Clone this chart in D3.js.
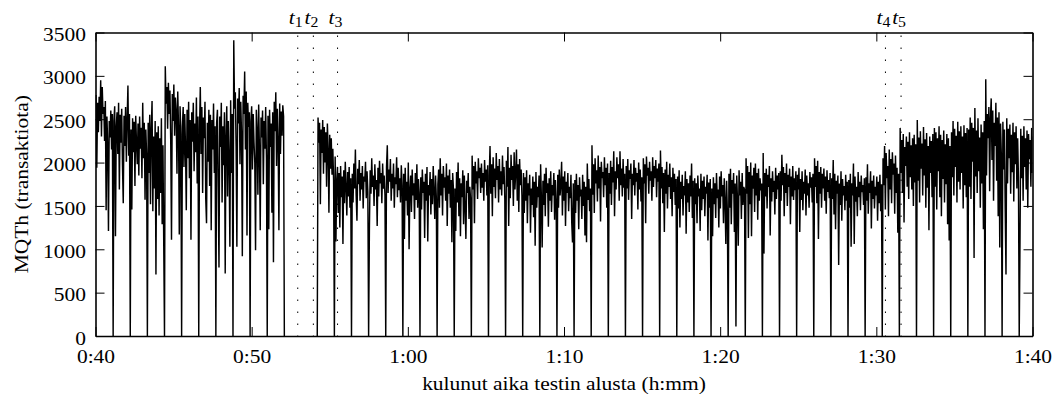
<!DOCTYPE html>
<html>
<head>
<meta charset="utf-8">
<script src="https://cdn.jsdelivr.net/npm/d3@7"></script>
<style>
  body { margin: 0; background: #fff; }
  svg text { font-family: "Liberation Serif", "Times New Roman", serif; fill: #000; }
</style>
</head>
<body>
<svg id="chart"></svg>
<script>
// Sample times are seconds since test start; one sample every ~3 s.
const step = 2.99;
const startA = 2402;   // 0:40, run before the break
const startB = 3252;   // restart after t2

// MQTh per sample, 0:40 .. 0:52 (each row starts with the periodic drop to 0)
const mqthA = [
  2780, 1940, 2690, 2350, 2760, 2480, 2950, 2300, 2870, 2560, 2640, 2250, 2710, 1450, 2530, 2220, 1210, 2480, 2290, 2600, 2150, 2560,
  0, 2480, 2650, 1150, 2420, 2580, 2100, 2690, 1690, 2550, 2230, 2620, 1970, 1530, 2540, 2190, 2640, 2010, 2500, 2890, 2080, 2560,
  0, 2380, 1460, 2510, 2120, 2470, 1730, 2540, 2230, 1980, 2450, 1850, 2530, 2160, 2400, 1820, 2690, 2050, 2460, 1570, 2380, 2100,
  0, 2460, 1880, 2550, 1520, 2390, 2710, 1440, 2300, 1700, 2480, 710, 2350, 1580, 2420, 1390, 2280, 1650, 2510, 1290, 2200, 1080,
  0, 3110, 2680, 2870, 2390, 2920, 2560, 2830, 2250, 1110, 2790, 2480, 2900, 2310, 2750, 2600, 1870, 2820, 2420, 1170, 2650, 2330,
  0, 2420, 2640, 1950, 2560, 2180, 1450, 2610, 2050, 2700, 1820, 2490, 1110, 2580, 2240, 2690, 1900, 2450, 2120, 2750, 1760, 2530,
  0, 2380, 2870, 2100, 2640, 1650, 2520, 2280, 2700, 1580, 1300, 2460, 2010, 2610, 1730, 2550, 1220, 2490, 2150, 2680, 1880, 2420,
  0, 2460, 2610, 1720, 790, 2530, 2180, 2690, 1540, 2420, 1970, 2580, 720, 2300, 2650, 1610, 2480, 2050, 1030, 2720, 1880, 2560,
  0, 3410, 2620, 2810, 2190, 1030, 2740, 2450, 2860, 1980, 2700, 2320, 920, 2770, 2560, 3050, 2150, 2820, 1160, 2690, 2410, 2580,
  0, 2470, 2650, 1920, 2560, 2230, 2000, 990, 2610, 2380, 1630, 2670, 2140, 1220, 2520, 2290, 2600, 1750, 2480, 2160, 2640, 2050,
  0, 2540, 1230, 2610, 2180, 2450, 1420, 2580, 850, 2700, 2360, 2810, 1960, 2620, 2250, 1220, 2680, 2100, 2590, 2310, 2660, 2530,
  0
];

// MQTh per sample, t2 .. t4
const mqthB = [
  0, 2520, 2230, 2460, 1520, 2380, 2110, 2490, 1870, 2410, 2000, 2350, 1720, 2450, 2150, 1420, 2320, 1930, 2280, 1860, 2160, 1790,
  0, 2070, 1090, 1790, 1950, 1420, 1880, 1250, 1960, 1600, 1840, 1060, 1910, 1530, 2010, 1720, 1390, 1890, 1610, 1950, 1480, 1820,
  0, 1870, 1540, 1990, 1700, 2150, 1620, 1330, 1930, 1750, 2030, 1560, 1880, 1690, 1960, 1470, 1840, 1780, 2010, 1590, 1900, 1660,
  0, 1230, 1910, 1640, 2050, 1720, 1850, 1500, 1980, 1690, 1800, 1270, 1940, 1610, 2020, 1760, 1880, 1530, 1990, 1700, 1850, 1620,
  0, 1950, 2200, 1650, 1920, 1780, 2040, 1560, 1870, 1700, 1990, 1480, 1830, 1750, 2060, 1600, 1940, 1680, 1820, 1540, 1970, 1730,
  0, 1870, 1120, 1940, 1560, 1780, 1390, 2000, 1000, 1690, 1850, 1430, 1920, 1620, 1760, 1350, 1880, 1570, 1980, 1480, 1810, 1650,
  0, 1830, 1460, 1920, 1650, 1780, 1130, 1870, 1560, 1950, 1090, 1740, 1620, 1890, 1400, 1810, 1520, 1960, 1680, 1350, 1850, 1590,
  0, 1750, 1920, 1480, 2050, 1620, 1870, 1390, 1960, 1710, 1830, 1560, 1990, 1270, 1850, 1640, 1920, 1480, 1800, 1080, 1880, 1690,
  0, 1700, 1210, 1890, 1540, 2000, 1380, 1820, 1150, 1760, 1600, 1910, 1290, 1850, 1470, 1120, 1790, 1650, 1880, 1350, 1720, 1580,
  0, 2080, 1690, 1960, 1300, 2010, 1760, 1900, 1580, 2050, 1820, 1940, 1650, 1990, 1710, 1880, 1560, 2030, 1780, 1920, 1620, 1970,
  0, 1850, 2190, 1640, 1980, 1380, 2060, 1720, 1930, 1590, 2110, 1800, 1960, 1540, 2040, 1690, 1900, 1620, 2080, 1750, 1950, 1580,
  0, 2020, 1720, 2180, 1270, 1940, 1590, 2090, 1800, 1960, 1500, 2120, 1690, 1890, 2150, 1560, 1980, 1430, 2040, 1740, 1920, 1620,
  0, 1880, 1420, 1830, 1560, 1910, 1300, 1760, 1620, 1860, 1190, 1700, 1510, 1840, 1370, 1780, 1040, 1890, 1480, 1720, 1600, 1850,
  0, 1980, 1600, 1020, 1790, 1510, 1870, 1380, 1940, 1650, 1760, 1260, 1820, 1560, 1900, 1430, 1740, 1620, 1880, 1340, 1800, 1570,
  0, 1860, 1480, 1920, 1620, 1750, 2010, 1390, 1840, 1560, 1900, 1270, 1780, 1650, 1880, 1440, 1720, 1590, 1860, 1310, 1080, 1760,
  0, 1800, 1420, 1870, 1560, 1740, 1230, 1830, 1610, 1690, 1350, 1860, 1500, 1780, 1160, 1720, 1080, 1990, 1570, 1810, 1440, 1700,
  0, 2200, 1630, 1980, 1420, 2050, 1760, 1910, 1550, 2080, 1700, 1950, 1320, 2010, 1820, 1890, 1600, 2060, 1740, 1940, 1480, 1990,
  0, 1880, 1640, 2020, 1510, 1950, 1770, 2130, 1380, 1900, 1690, 2060, 1820, 1980, 1560, 2130, 1740, 1930, 1610, 2040, 1710, 1870,
  0, 1960, 1700, 2040, 1570, 1910, 1810, 1990, 1350, 1870, 1740, 2030, 1620, 1940, 1780, 1880, 1460, 2000, 1690, 1920, 1550, 1830,
  0, 2050, 1760, 1980, 1300, 2070, 1850, 1940, 1640, 2010, 1790, 1900, 1560, 2060, 1720, 1960, 1820, 2030, 1600, 1930, 1780, 1990,
  0, 2140, 1700, 1950, 1530, 1880, 1200, 1920, 1640, 2010, 1470, 1860, 1720, 1990, 1580, 1830, 1380, 1940, 1660, 1870, 1510, 1810,
  0, 1840, 1470, 1910, 1250, 1780, 1580, 1860, 1390, 1730, 1620, 1900, 1180, 1810, 1540, 1760, 1430, 1850, 1610, 1990, 1360, 1790,
  0, 1820, 1520, 1760, 1300, 1850, 1610, 1700, 1210, 1870, 1450, 1790, 1580, 1840, 1380, 1720, 1640, 1860, 1100, 1770, 1480, 1810,
  0, 1700, 1150, 1830, 1520, 1760, 1360, 1880, 1590, 1690, 1250, 1840, 1470, 1900, 1610, 1740, 1300, 1820, 1560, 1060, 1790, 1420,
  0, 1870, 1480, 1930, 1290, 1800, 1640, 1880, 1200, 1760, 110, 1850, 1560, 1040, 1910, 1620, 1780, 1350, 1880, 1510, 1720, 1690,
  0, 2050, 1640, 1960, 1130, 1890, 1520, 2000, 1150, 1850, 1700, 1940, 1430, 1990, 1620, 1880, 1340, 1930, 1560, 1820, 1680, 1760,
  0, 2110, 950, 1880, 1610, 1930, 1470, 1860, 1720, 1960, 1160, 1820, 1550, 1900, 1660, 1790, 1400, 1940, 1580, 1850, 1690, 1880,
  0, 1900, 1560, 2090, 1740, 1950, 1380, 1880, 1650, 1990, 1500, 1860, 1720, 1930, 1290, 1840, 1610, 1960, 1570, 1820, 1680, 1900,
  0, 1860, 1690, 1940, 1200, 1810, 1570, 1900, 1450, 1780, 1640, 1920, 1390, 1850, 1620, 1760, 1480, 1890, 1710, 1830, 1540, 1870,
  0, 2050, 1720, 1960, 1530, 2020, 1120, 1890, 1640, 1950, 1480, 1870, 1700, 1930, 1560, 1840, 1410, 1910, 1660, 1800, 1590, 1880,
  0, 1820, 1580, 2030, 1400, 1870, 1230, 1790, 1640, 1850, 820, 1760, 1510, 1900, 1330, 1810, 1620, 1730, 1450, 1860, 1560, 1780,
  0, 1800, 1480, 1870, 1030, 1760, 1620, 1990, 1060, 1840, 1550, 1720, 1380, 1890, 1600, 1780, 1450, 1850, 1660, 1740, 1510, 1820,
  0, 1830, 1560, 1980, 1410, 1760, 1650, 1900, 1240, 1790, 1580, 1850, 1470, 1720, 1620, 1840, 1330, 1780, 1530, 1860, 1440, 1750
];

// MQTh per sample, t4 .. 1:40 (continues mqthB without a gap)
const mqthC = [
  0, 2050, 1740, 2190, 1460, 2110, 1820, 1960, 1380, 2150, 1690, 2040, 1530, 2120, 1860, 1990, 1410, 2080, 1650, 1940, 1190, 1870,
  0, 2400, 1880, 2260, 1650, 2330, 1310, 2180, 1960, 2300, 1720, 2240, 1580, 2350, 1830, 2200, 1690, 2280, 1500, 2320, 1770, 2210,
  0, 2490, 1790, 2290, 1540, 2360, 1930, 2220, 1620, 2410, 1850, 2270, 1480, 2340, 1710, 2190, 1220, 2300, 1880, 2250, 1600, 2330,
  0, 2400, 1720, 2350, 1460, 2280, 1900, 2420, 1600, 2320, 1380, 2260, 1810, 2370, 1540, 2210, 1750, 2330, 1290, 2280, 1100, 2190,
  0, 2350, 1830, 2480, 1620, 2390, 1950, 2310, 1540, 2470, 1780, 2360, 1690, 2420, 1880, 2300, 1470, 2430, 1740, 2340, 1600, 2400,
  0, 2380, 1720, 2520, 1580, 2460, 2010, 2400, 900, 2630, 1840, 2370, 1650, 2510, 1900, 2290, 1480, 2440, 1760, 2350, 1230, 2480,
  0, 2960, 1850, 2560, 2280, 2640, 1670, 2510, 2740, 2030, 2600, 1560, 2460, 2190, 2690, 1790, 2520, 1380, 2580, 1020, 2450, 2100,
  0, 2470, 1920, 2380, 1460, 710, 2510, 1760, 2390, 2050, 2440, 1640, 2320, 1890, 2460, 1550, 2350, 1980, 2420, 1700, 2280, 1830,
  0, 1080, 2390, 1820, 2310, 1560, 2420, 1950, 2280, 1690, 2370, 1480, 2330, 2040, 2260, 1720, 2400, 1880, 2300, 2150, 2050
];

// Axis ticks (seconds) and labels
const xTicks = [2400, 3000, 3600, 4200, 4800, 5400, 6000];
const xTickLabels = ["0:40", "0:50", "1:00", "1:10", "1:20", "1:30", "1:40"];
const yTicks = [0, 500, 1000, 1500, 2000, 2500, 3000, 3500];

// Event markers t1..t5 (seconds)
const eventNames = ["1", "2", "3", "4", "5"];
const eventTimes = [3177, 3237, 3330, 5435, 5495];

const width = 1059, height = 397;
const marginTop = 32.5, marginRight = 26.5, marginBottom = 61, marginLeft = 95.5;
const fontSize = 19;
const stretch = 1.13; // widen serif glyphs towards the LaTeX look

const xScale = d3.scaleLinear([2400, 6000], [marginLeft, width - marginRight]);
const yScale = d3.scaleLinear([0, 3500], [height - marginBottom, marginTop]);

const svg = d3.select("#chart")
    .attr("width", width)
    .attr("height", height)
    .attr("viewBox", [0, 0, width, height]);

svg.append("defs").append("clipPath")
    .attr("id", "plot-clip")
  .append("rect")
    .attr("x", marginLeft)
    .attr("y", marginTop)
    .attr("width", width - marginLeft - marginRight)
    .attr("height", height - marginTop - marginBottom);

// event markers: dotted verticals
svg.append("g")
    .attr("stroke", "#000")
    .attr("stroke-width", 1)
    .attr("stroke-dasharray", "1.5 10.5")
  .selectAll("line")
  .data(eventTimes)
  .join("line")
    .attr("x1", d => xScale(d))
    .attr("x2", d => xScale(d))
    .attr("y1", marginTop + 3)
    .attr("y2", height - marginBottom);

// data lines
const pointsA = mqthA.map((v, i) => [startA + i * step, v]);
const pointsB = mqthB.concat(mqthC).map((v, i) => [startB + i * step, v]);

const line = d3.line()
    .x(d => xScale(d[0]))
    .y(d => yScale(d[1]));

svg.append("g")
    .attr("clip-path", "url(#plot-clip)")
    .attr("fill", "none")
    .attr("stroke", "#000")
    .attr("stroke-width", 1.45)
    .attr("stroke-linejoin", "miter")
  .selectAll("path")
  .data([pointsA, pointsB])
  .join("path")
    .attr("d", d => line(d));

// axes, gnuplot style: ticks pointing inwards on all four sides
function styleAxis(g) {
  g.attr("font-size", fontSize).attr("font-family", null);
  g.select(".domain").attr("stroke-width", 1.6);
  g.selectAll(".tick line").attr("stroke-width", 1);
}

svg.append("g")
    .attr("transform", `translate(0,${height - marginBottom})`)
    .call(d3.axisBottom(xScale)
        .tickValues(xTicks)
        .tickFormat((d, i) => xTickLabels[i])
        .tickSize(-9)
        .tickSizeOuter(0)
        .tickPadding(13.8))
    .call(styleAxis)
    .call(g => g.selectAll("text").attr("transform", `scale(${stretch},1)`));

svg.append("g")
    .attr("transform", `translate(0,${marginTop})`)
    .call(d3.axisTop(xScale)
        .tickValues(xTicks)
        .tickFormat("")
        .tickSize(-9)
        .tickSizeOuter(0))
    .call(styleAxis);

svg.append("g")
    .attr("transform", `translate(${marginLeft},0)`)
    .call(d3.axisLeft(yScale)
        .tickValues(yTicks)
        .tickFormat(d3.format("d"))
        .tickSize(-9)
        .tickSizeOuter(0)
        .tickPadding(8.4))
    .call(styleAxis)
    .call(g => g.selectAll("text")
        .attr("y", 2)
        .attr("transform", `scale(${stretch},1)`));

svg.append("g")
    .attr("transform", `translate(${width - marginRight},0)`)
    .call(d3.axisRight(yScale)
        .tickValues(yTicks)
        .tickFormat("")
        .tickSize(-9)
        .tickSizeOuter(0))
    .call(styleAxis);

// axis titles
svg.append("text")
    .attr("transform", `translate(${(marginLeft + width - marginRight) / 2},390) scale(${stretch},1)`)
    .attr("text-anchor", "middle")
    .attr("font-size", fontSize)
    .text("kulunut aika testin alusta (h:mm)");

svg.append("text")
    .attr("transform", `translate(28,${(marginTop + height - marginBottom) / 2}) rotate(-90) scale(${stretch},1)`)
    .attr("text-anchor", "middle")
    .attr("font-size", fontSize)
    .text("MQTh (transaktiota)");

// event labels t1..t5 above the frame
svg.append("g")
  .selectAll("text")
  .data(eventTimes)
  .join("text")
    .attr("transform", d => `translate(${xScale(d) - 2},24) scale(${stretch},1)`)
    .attr("text-anchor", "middle")
    .attr("font-size", fontSize)
    .each(function(d, i) {
      const t = d3.select(this);
      t.append("tspan").attr("font-style", "italic").text("t");
      t.append("tspan").attr("font-size", 14).attr("dy", 2.5).text(eventNames[i]);
    });
</script>
</body>
</html>
